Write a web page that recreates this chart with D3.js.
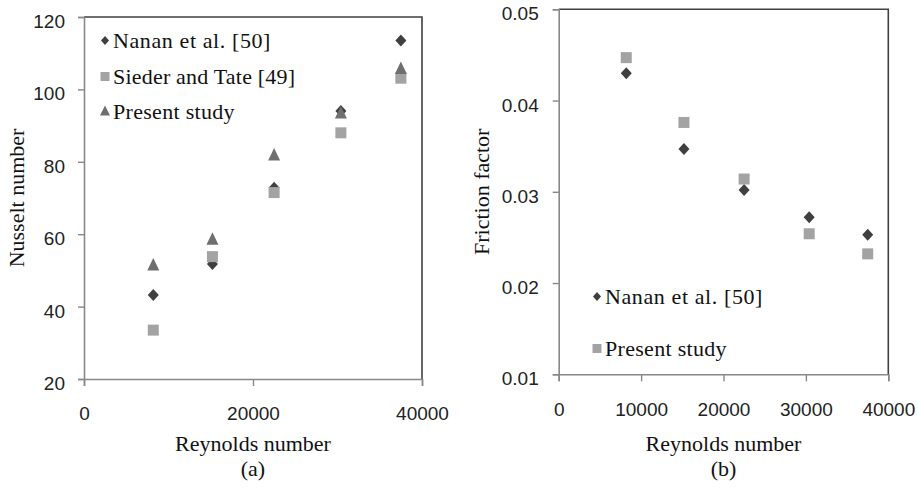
<!DOCTYPE html>
<html><head><meta charset="utf-8">
<script src="https://cdn.jsdelivr.net/npm/d3@7"></script>
<style>body{margin:0;background:#fff}svg{display:block}</style>
</head><body>
<svg id="c" width="917" height="488"></svg>
<script>
// Data
const reynolds = [8200, 15200, 22500, 30400, 37500];
const nuNanan = [43.2, 51.8, 72.8, 94.0, 113.5];
const nuSieder = [33.5, 53.8, 71.5, 88.0, 103.1];
const nuPresent = [51.5, 58.6, 81.9, 93.5, 105.8];
const fNanan = [0.0430, 0.0347, 0.0302, 0.0272, 0.0253];
const fPresent = [0.0447, 0.0376, 0.0314, 0.0254, 0.0232];
const xTicksA = [0, 20000, 40000];
const yTicksA = [20, 40, 60, 80, 100, 120];
const xTicksB = [0, 10000, 20000, 30000, 40000];
const yTicksB = [0.01, 0.02, 0.03, 0.04, 0.05];

const svg = d3.select("#c");
const serif = "'Liberation Serif','Times New Roman',serif";
const sans = "'Liberation Sans',Arial,sans-serif";
const colDiamond = "#3f3f3f", colSquare = "#a3a3a3", colTri = "#6f6f6f";

function diamondPath(x, y, w, h) {
  return `M${x},${y - h / 2}L${x + w / 2},${y}L${x},${y + h / 2}L${x - w / 2},${y}Z`;
}

function panel(opt) {
  const g = svg.append("g");
  const x = d3.scaleLinear().domain(opt.xDomain).range([opt.left, opt.right]);
  const y = d3.scaleLinear().domain(opt.yDomain).range([opt.bottom, opt.top]);
  // frame top/right
  g.append("path").attr("d", `M${opt.left},${opt.top}H${opt.right}V${opt.bottom}`)
    .attr("fill", "none").attr("stroke", "#404040").attr("stroke-width", 1.6);
  // axes
  const ya = g.append("g").attr("transform", `translate(${opt.left},0)`)
    .call(d3.axisLeft(y).tickValues(opt.yTicks).tickSize(6).tickPadding(opt.yPad).tickFormat(opt.yFmt));
  const xa = g.append("g").attr("transform", `translate(0,${opt.bottom})`)
    .call(d3.axisBottom(x).tickValues(opt.xTicks).tickSize(7).tickPadding(21).tickFormat(d3.format("d")));
  [ya, xa].forEach(a => {
    a.select(".domain").attr("stroke", "#888").attr("stroke-width", 1.6);
    a.selectAll(".tick line").attr("stroke", "#888").attr("stroke-width", 1.4);
    a.selectAll("text").attr("font-family", sans).attr("font-size", 19).attr("fill", "#222");
  });
  ya.selectAll("text").attr("dy", "0.55em");
  // series
  opt.series.forEach(s => {
    s.values.forEach((v, i) => {
      const px = x(reynolds[i]), py = y(v);
      if (s.type === "diamond") g.append("path").attr("d", diamondPath(px, py, 11, 12)).attr("fill", colDiamond);
      else if (s.type === "square") g.append("rect").attr("x", px - 5.5).attr("y", py - 5.5).attr("width", 11).attr("height", 11).attr("fill", colSquare);
      else g.append("path").attr("d", `M${px},${py - 7}L${px + 6},${py + 5.5}L${px - 6},${py + 5.5}Z`).attr("fill", colTri);
    });
  });
  // legend
  opt.series.forEach((s, i) => {
    const ly = opt.legendY[i], lx = opt.legendX;
    if (s.type === "diamond") g.append("path").attr("d", diamondPath(lx, ly, 8, 9)).attr("fill", colDiamond);
    else if (s.type === "square") g.append("rect").attr("x", lx - 4.5).attr("y", ly - 4.5).attr("width", 9).attr("height", 9).attr("fill", colSquare);
    else g.append("path").attr("d", `M${lx},${ly - 5.5}L${lx + 5},${ly + 4.5}L${lx - 5},${ly + 4.5}Z`).attr("fill", colTri);
    g.append("text").attr("x", lx + 8).attr("y", ly).attr("dy", "0.35em")
      .attr("font-family", serif).attr("font-size", 22).attr("fill", "#111")
      .attr("letter-spacing", s.spacing || 0).text(s.name);
  });
  // axis titles
  const cx = (opt.left + opt.right) / 2;
  g.append("text").attr("x", cx).attr("y", 451).attr("text-anchor", "middle")
    .attr("font-family", serif).attr("font-size", 22).attr("fill", "#111").text("Reynolds number");
  g.append("text").attr("x", cx).attr("y", 476).attr("text-anchor", "middle")
    .attr("font-family", serif).attr("font-size", 22).attr("fill", "#111").text(opt.caption);
  g.append("text").attr("transform", `translate(${opt.yTitleX},${(opt.top + opt.bottom) / 2}) rotate(-90)`)
    .attr("text-anchor", "middle").attr("dy", "0.35em")
    .attr("font-family", serif).attr("font-size", 22).attr("fill", "#111").text(opt.yTitle);
}

panel({
  left: 84, right: 422, top: 17, bottom: 379,
  xDomain: [0, 40000], yDomain: [20, 120],
  xTicks: xTicksA, yTicks: yTicksA, yFmt: d3.format("d"), yPad: 13,
  series: [
    { name: "Nanan et al. [50]", type: "diamond", values: nuNanan, spacing: 0.6 },
    { name: "Sieder and Tate [49]", type: "square", values: nuSieder, spacing: 0.2 },
    { name: "Present study", type: "triangle", values: nuPresent, spacing: 0.3 }
  ],
  legendX: 105, legendY: [40.5, 76.5, 111],
  yTitle: "Nusselt number", yTitleX: 16, caption: "(a)"
});

panel({
  left: 558.7, right: 888.3, top: 9.3, bottom: 374.3,
  xDomain: [0, 40000], yDomain: [0.01, 0.05],
  xTicks: xTicksB, yTicks: yTicksB, yFmt: d3.format(".2f"), yPad: 14,
  series: [
    { name: "Nanan et al. [50]", type: "diamond", values: fNanan, spacing: 0.6 },
    { name: "Present study", type: "square", values: fPresent, spacing: 0.3 }
  ],
  legendX: 597, legendY: [296.5, 348.5],
  yTitle: "Friction factor", yTitleX: 481, caption: "(b)"
});
</script>
</body></html>
